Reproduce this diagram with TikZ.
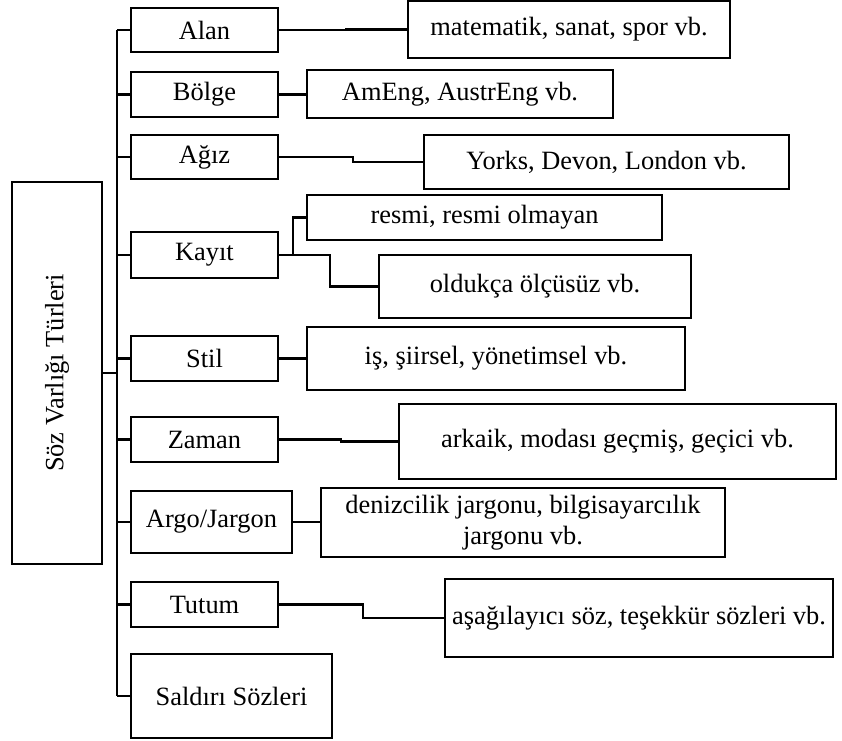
\documentclass[tikz,border=0pt]{standalone}
\usepackage{fontspec}
\setmainfont{Liberation Serif}
\newcommand\mybx[6]{%
  \node[bx,minimum width={(#4-#2)*0.75pt},minimum height={(#5-#3)*0.75pt}]
    (#1) at ({(#2+#4)/2},{(#3+#5)/2}) {#6};}
\begin{document}
\begin{tikzpicture}[x=0.75pt,y=-0.75pt,
  bx/.style={draw=black,line width=1.7pt,inner sep=0pt,align=center,
    font=\fontsize{19.8}{22}\selectfont},
  ln/.style={draw=black,line width=1.7pt}]
\useasboundingbox (0,0) rectangle (842,740);
% main box
\mybx{main}{12}{182}{102}{564}{}
\node[rotate=90,font=\fontsize{19.8}{22}\selectfont] (maintext) at (main.center) {Söz Varlığı Türleri};
% left column
\mybx{alan}{131}{8}{278}{52}{Alan}
\mybx{bolge}{131}{72}{278}{117}{Bölge}
\mybx{agiz}{131}{135}{278}{179}{Ağız}
\mybx{kayit}{131}{232}{278}{278}{Kayıt}
\mybx{stil}{131}{336}{278}{381}{Stil}
\mybx{zaman}{131}{417}{278}{462}{Zaman}
\mybx{argo}{131}{491}{292}{553}{Argo/Jargon}
\mybx{tutum}{131}{582}{278}{627}{Tutum}
\mybx{sald}{131}{654}{332}{738}{Saldırı Sözleri}
% right column
\mybx{r1}{408}{1}{730}{58}{matematik, sanat, spor vb.}
\mybx{r2}{307}{70}{613}{118}{AmEng, AustrEng vb.}
\mybx{r3}{424}{135}{789}{189}{Yorks, Devon, London vb.}
\mybx{r4a}{307}{195}{662}{240}{resmi, resmi olmayan}
\mybx{r4b}{379}{255}{691}{318}{oldukça ölçüsüz vb.}
\mybx{r5}{307}{327}{685}{390}{iş, şiirsel, yönetimsel vb.}
\mybx{r6}{399}{404}{836}{479}{arkaik, modası geçmiş, geçici vb.}
\mybx{r7}{321}{488}{725}{557}{denizcilik jargonu, bilgisayarcılık\\[1pt]jargonu vb.}
\mybx{r8}{445}{579}{833}{657}{aşağılayıcı söz, teşekkür sözleri vb.}
% trunk
\coordinate (tx) at (117,0);
\draw[ln] (main.east) -- (main.east -| tx);
\draw[ln] (alan.west -| tx) -- (sald.west -| tx);
\foreach \n in {alan,bolge,agiz,kayit,stil,zaman,argo,tutum,sald}
  \draw[ln] (\n.west -| tx) -- (\n.west);
% right connectors
\draw[ln] (alan.east) -- ++(67,0) |- (r1.west);
\draw[ln] (bolge.east) -- (r2.west |- bolge.east);
\draw[ln] (agiz.east) -- ++(74,0) |- (r3.west);
\draw[ln] (kayit.east) -- ++(14,0) coordinate (k1) |- (r4a.west);
\draw[ln] (k1) -- ++(37,0) |- (r4b.west);
\draw[ln] (stil.east) -- (r5.west |- stil.east);
\draw[ln] (zaman.east) -- ++(62,0) |- (r6.west);
\draw[ln] (argo.east) -- (r7.west |- argo.east);
\draw[ln] (tutum.east) -- ++(84,0) |- (r8.west);
\end{tikzpicture}
\end{document}
